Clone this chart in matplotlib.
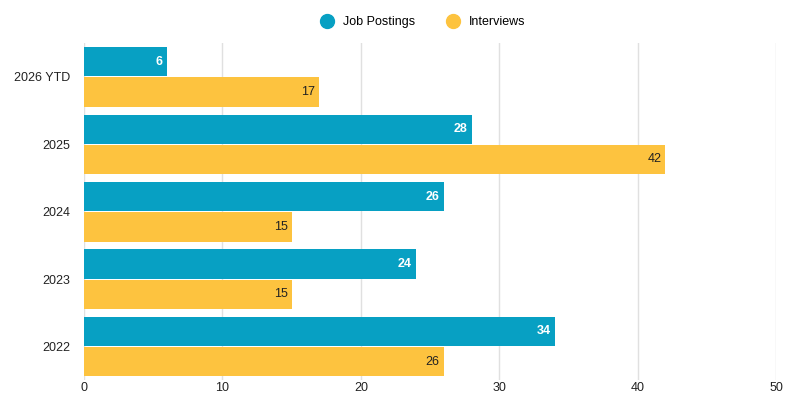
import matplotlib.pyplot as plt
import numpy as np

plt.rcParams['font.family'] = ['Liberation Sans', 'DejaVu Sans']

categories = ["2026 YTD", "2025", "2024", "2023", "2022"]
job_postings = [6, 28, 26, 24, 34]
interviews = [17, 42, 15, 15, 26]
x_ticks = [0, 10, 20, 30, 40, 50]

color_jobs = "#07a0c3"
color_int = "#fdc33f"

fig = plt.figure(figsize=(7.92, 3.95), dpi=100)
ax = fig.add_axes([0.106, 0.0375, 0.874, 0.853])

# top category first
y = np.arange(len(categories))[::-1]
h = 0.435
off = 0.225

bars_j = ax.barh(y + off, job_postings, height=h, color=color_jobs, zorder=2)
bars_i = ax.barh(y - off, interviews, height=h, color=color_int, zorder=2)

for b, v in zip(bars_j, job_postings):
    ax.text(b.get_width() - 0.3, b.get_y() + b.get_height() / 2, str(v),
            ha="right", va="center", color="white", fontsize=9, fontweight="bold")
for b, v in zip(bars_i, interviews):
    ax.text(b.get_width() - 0.3, b.get_y() + b.get_height() / 2, str(v),
            ha="right", va="center", color="#222222", fontsize=9)

ax.set_xlim(0, 50)
ax.set_ylim(-0.5, 4.5)
ax.set_yticks(y)
ax.set_yticklabels(categories, fontsize=9, color="#222222")
ax.set_xticks(x_ticks)
ax.set_xticklabels([str(t) for t in x_ticks], fontsize=9, color="#222222")
ax.tick_params(axis="x", length=0, pad=1)
ax.tick_params(axis="y", length=0, pad=10)

ax.grid(axis="x", color="#e0e0e0", linewidth=1, zorder=0)
for s in ax.spines.values():
    s.set_visible(False)

handles = [
    plt.Line2D([], [], marker="o", linestyle="", markersize=10, color=color_jobs, label="Job Postings"),
    plt.Line2D([], [], marker="o", linestyle="", markersize=10, color=color_int, label="Interviews"),
]
fig.legend(handles=handles, loc="upper center", bbox_to_anchor=(0.53, 0.988), ncol=2,
           frameon=False, fontsize=9, handletextpad=0.3, columnspacing=2.0)

fig.savefig("out.png", dpi=100)
